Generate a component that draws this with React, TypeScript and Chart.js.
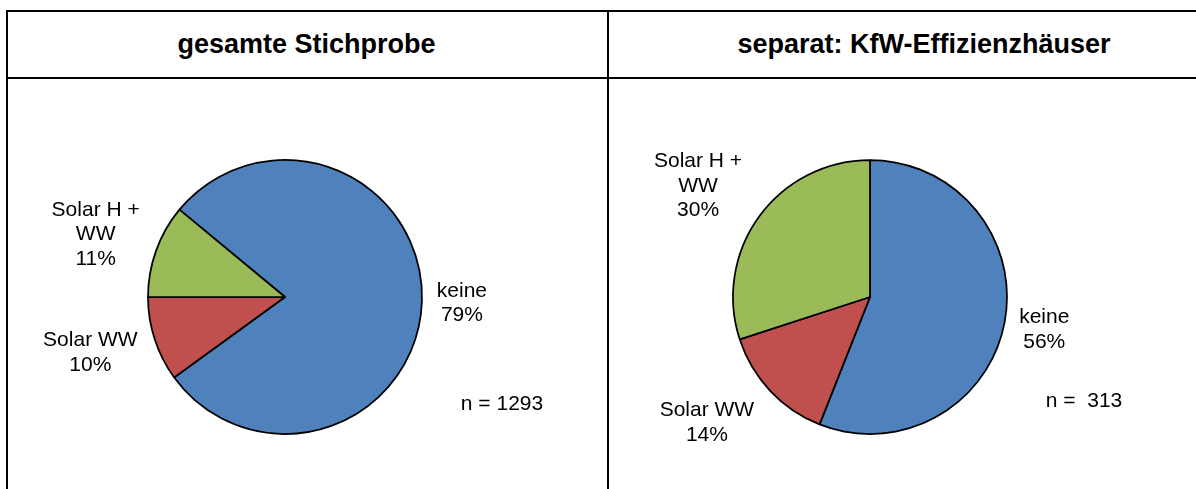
import React, { useEffect, useRef } from "react";
import { Chart, registerables } from "chart.js";

Chart.register(...registerables);

// ---- data ----
const titles = ["gesamte Stichprobe", "separat: KfW-Effizienzhäuser"];
const categories = ["keine", "Solar WW", "Solar H + WW"];
const categoryLines = [["keine"], ["Solar WW"], ["Solar H +", "WW"]];
const valuesAll = [79, 10, 11];
const valuesKfW = [56, 14, 30];
const sampleSizes = ["n = 1293", "n =  313"];
const sliceColors = ["#4F81BD", "#C0504D", "#9BBB59"];

const FONT = '"Liberation Sans", Arial, Helvetica, sans-serif';

type LabelCfg = {
  fontSize: number;
  lineHeight: number;
  distance: number[];
  angleAdjust: number[];
  note: string;
  noteOffset: [number, number];
};

function makeLabelPlugin(cfg: LabelCfg) {
  return {
    id: "pieLabels",
    afterDatasetsDraw(chart: any) {
      const ctx = chart.ctx as CanvasRenderingContext2D;
      const meta = chart.getDatasetMeta(0);
      const data = chart.data.datasets[0].data as number[];
      const total = data.reduce((a, b) => a + b, 0);
      ctx.save();
      ctx.font = `${cfg.fontSize}px ${FONT}`;
      ctx.fillStyle = "#000";
      ctx.textAlign = "center";
      ctx.textBaseline = "alphabetic";
      const cap = cfg.fontSize * 0.716;
      meta.data.forEach((arc: any, i: number) => {
        const p = arc.getProps(["x", "y", "startAngle", "endAngle", "outerRadius"], true);
        const mid = (p.startAngle + p.endAngle) / 2 + (cfg.angleAdjust[i] * Math.PI) / 180;
        const d = p.outerRadius + cfg.distance[i];
        const cx = p.x + Math.cos(mid) * d;
        const cy = p.y + Math.sin(mid) * d;
        const lines = [...categoryLines[i], Math.round((data[i] / total) * 100) + "%"];
        const n = lines.length;
        const b1 = cy - ((n - 1) * cfg.lineHeight + cap) / 2 + cap;
        lines.forEach((t, j) => ctx.fillText(t, cx, b1 + j * cfg.lineHeight));
      });
      const c = meta.data[0];
      ctx.fillText(cfg.note, c.x + cfg.noteOffset[0], c.y + cfg.noteOffset[1]);
      ctx.restore();
    },
  };
}

function PieChart(props: {
  values: number[];
  rotation: number;
  width: number;
  height: number;
  padding: { left: number; right: number; top: number; bottom: number };
  label: LabelCfg;
}) {
  const ref = useRef<HTMLCanvasElement | null>(null);
  useEffect(() => {
    if (!ref.current) return;
    const chart = new Chart(ref.current, {
      type: "pie",
      data: {
        labels: categories,
        datasets: [
          {
            data: props.values,
            backgroundColor: sliceColors,
            borderColor: "#000",
            borderWidth: 1.75,
          },
        ],
      },
      options: {
        animation: false,
        responsive: false,
        rotation: props.rotation,
        radius: 137,
        layout: { padding: props.padding },
        plugins: {
          legend: { display: false },
          tooltip: { enabled: false },
          title: { display: false },
        },
        events: [],
      },
      plugins: [makeLabelPlugin(props.label)],
    } as any);
    return () => chart.destroy();
  }, []);
  return <canvas ref={ref} width={props.width} height={props.height} style={{ display: "block" }} />;
}

const line = (s: React.CSSProperties): React.CSSProperties => ({
  position: "absolute",
  background: "#000",
  ...s,
});

export default function App() {
  const titleStyle: React.CSSProperties = {
    position: "absolute",
    top: 12,
    height: 65,
    display: "flex",
    alignItems: "center",
    justifyContent: "center",
    fontFamily: FONT,
    fontWeight: "bold",
    fontSize: 27,
    color: "#000",
    whiteSpace: "nowrap",
  };
  return (
    <div
      style={{
        position: "absolute",
        left: 0,
        top: 0,
        width: 1196,
        height: 489,
        overflow: "hidden",
        background: "#fff",
      }}
    >
      <div style={{ ...titleStyle, left: 8, width: 597 }}>{titles[0]}</div>
      <div style={{ ...titleStyle, left: 609, width: 630 }}>{titles[1]}</div>

      <div style={{ position: "absolute", left: 8, top: 79 }}>
        <PieChart
          values={valuesAll}
          rotation={309.6}
          width={599}
          height={410}
          padding={{ left: 0, right: 45, top: 26, bottom: 0 }}
          label={{
            fontSize: 21,
            lineHeight: 24.5,
            distance: [40, 65, 63],
            angleAdjust: [-0.4, 2.5, -1.0],
            note: sampleSizes[0],
            noteOffset: [217, 113],
          }}
        />
      </div>
      <div style={{ position: "absolute", left: 609, top: 79 }}>
        <PieChart
          values={valuesKfW}
          rotation={0}
          width={587}
          height={410}
          padding={{ left: 0, right: 65, top: 26, bottom: 0 }}
          label={{
            fontSize: 21,
            lineHeight: 24.5,
            distance: [40, 68, 68.5],
            angleAdjust: [-0.7, 5.9, -2.8],
            note: sampleSizes[1],
            noteOffset: [214, 110],
          }}
        />
      </div>

      {/* table lines */}
      <div style={line({ left: 6, top: 10, width: 1300, height: 2 })} />
      <div style={line({ left: 6, top: 77, width: 1300, height: 2 })} />
      <div style={line({ left: 6, top: 10, width: 2, height: 600 })} />
      <div style={line({ left: 607, top: 10, width: 2, height: 600 })} />
    </div>
  );
}
